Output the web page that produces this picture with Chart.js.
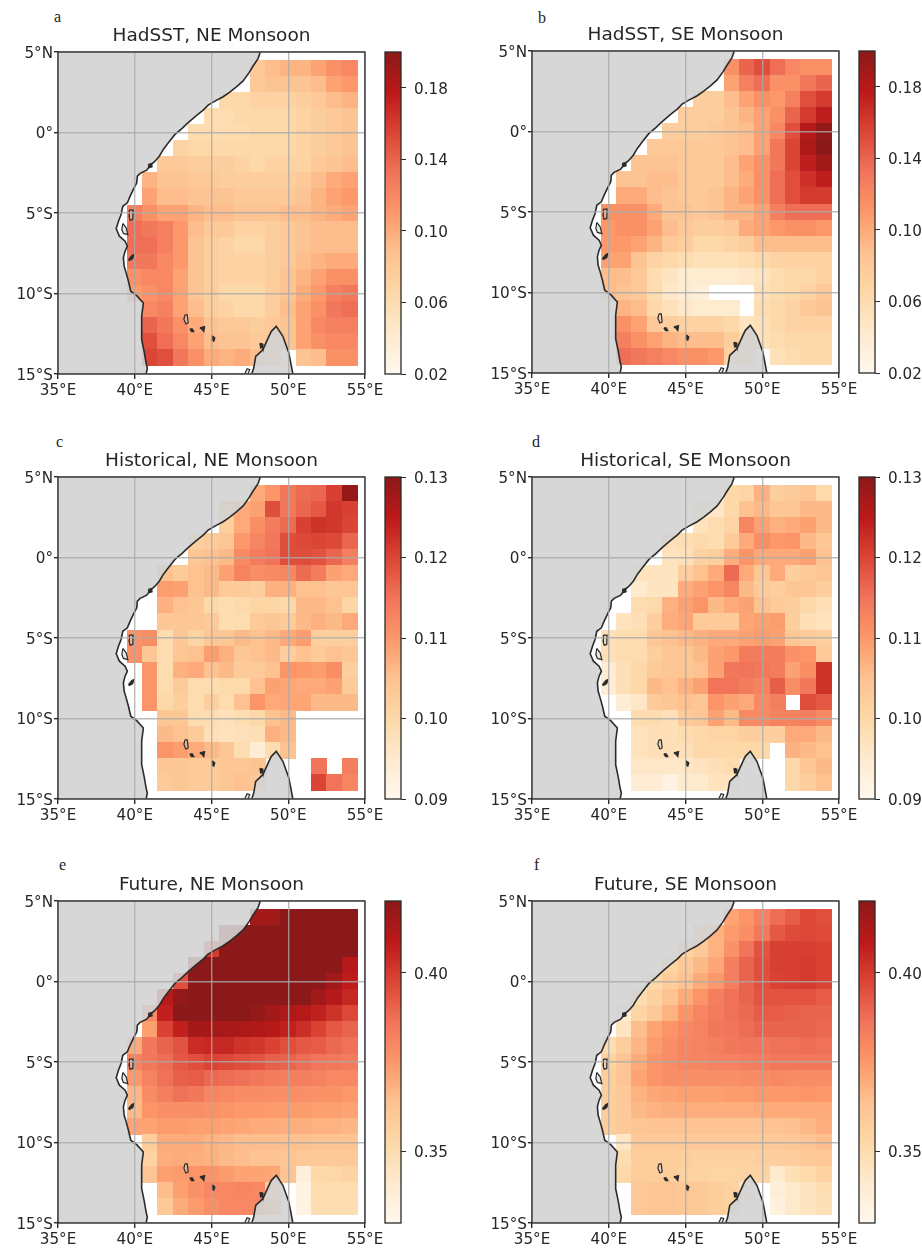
<!DOCTYPE html>
<html><head><meta charset="utf-8">
<script src="https://cdn.jsdelivr.net/npm/chart.js@4"></script>
<style>
html,body{margin:0;padding:0;background:#fff}
#page{position:relative;width:922px;height:1250px;overflow:hidden}
canvas{position:absolute}
.tag{position:absolute;font:16px "Liberation Serif",serif;color:#222;line-height:16px}
</style></head><body><div id="page"></div>
<script>
const n = null;
const lons = [40,41,42,43,44,45,46,47,48,49,50,51,52,53,54];
const lats = [4,3,2,1,0,-1,-2,-3,-4,-5,-6,-7,-8,-9,-10,-11,-12,-13,-14];
const xTickLabels = ['35°E','40°E','45°E','50°E','55°E'];
const yTickLabels = ['15°S','10°S','5°S','0°','5°N'];

const hadsstNE = [
[n,n,n,n,n,n,n,n,.08,.09,.095,.095,.105,.115,.12],
[n,n,n,n,n,n,n,n,.08,.085,.085,.085,.09,.105,.11],
[n,n,n,n,n,n,.065,.065,.07,.07,.07,.075,.08,.09,.095],
[n,n,n,n,n,.06,.06,.065,.065,.065,.065,.07,.075,.08,.085],
[n,n,n,n,.06,.06,.06,.06,.065,.065,.065,.07,.075,.08,.085],
[n,n,n,.07,.065,.065,.065,.065,.065,.065,.065,.07,.075,.08,.085],
[n,n,.08,.08,.075,.075,.075,.07,.065,.07,.07,.07,.08,.085,.09],
[n,.095,.085,.085,.08,.08,.075,.075,.075,.075,.075,.08,.09,.1,.105],
[n,.105,.09,.09,.085,.085,.085,.08,.08,.08,.08,.085,.095,.105,.11],
[.125,.115,.105,.105,.095,.09,.09,.085,.085,.085,.09,.09,.095,.1,.105],
[.135,.13,.125,.11,.09,.08,.08,.07,.07,.075,.08,.085,.09,.09,.09],
[.135,.135,.125,.11,.085,.075,.07,.065,.065,.075,.08,.085,.09,.09,.09],
[.13,.13,.12,.11,.085,.075,.07,.07,.07,.075,.08,.09,.095,.1,.1],
[.115,.12,.12,.105,.085,.075,.07,.07,.07,.075,.085,.095,.105,.115,.115],
[.11,.115,.12,.105,.085,.075,.065,.065,.065,.075,.085,.1,.11,.125,.13],
[n,.12,.125,.105,.09,.075,.07,.065,.065,.075,.09,.105,.115,.13,.135],
[n,.14,.13,.115,.1,.085,.08,.08,.075,.08,.085,.105,.12,.125,.125],
[n,.15,.135,.12,.105,.09,.085,.085,.08,.08,.085,.105,.115,.12,.12],
[n,.155,.15,.13,.115,.1,.095,.1,.09,.08,n,.085,.09,.115,.115]];

const hadsstSE = [
[n,n,n,n,n,n,n,n,.115,.14,.15,.135,.12,.115,.115],
[n,n,n,n,n,n,n,n,.105,.125,.135,.115,.115,.13,.14],
[n,n,n,n,n,n,.075,.075,.09,.105,.115,.11,.125,.15,.16],
[n,n,n,n,n,.075,.075,.075,.085,.095,.105,.115,.14,.16,.175],
[n,n,n,n,.075,.075,.075,.08,.085,.09,.105,.12,.15,.18,.195],
[n,n,n,.08,.08,.08,.08,.08,.085,.09,.105,.13,.155,.185,.2],
[n,n,.085,.085,.085,.08,.08,.08,.09,.105,.115,.13,.155,.175,.19],
[n,.085,.085,.09,.09,.08,.08,.08,.09,.1,.115,.135,.15,.165,.175],
[n,.1,.1,.09,.085,.08,.08,.085,.095,.105,.115,.135,.15,.16,.16],
[.115,.115,.115,.1,.085,.085,.08,.085,.095,.095,.105,.125,.135,.135,.135],
[.11,.115,.115,.105,.09,.08,.075,.075,.08,.1,.105,.11,.115,.115,.11],
[.11,.11,.105,.095,.08,.075,.065,.065,.07,.075,.09,.09,.09,.09,.09],
[.105,.105,.085,.07,.065,.06,.055,.055,.055,.06,.065,.07,.07,.07,.07],
[.09,.09,.08,.06,.05,.04,.04,.04,.04,.045,.05,.06,.065,.065,.07],
[.09,.085,.08,.06,.045,.04,.035,n,n,n,.055,.06,.065,.07,.08],
[n,.095,.09,.065,.055,.045,.04,.04,.04,n,.06,.065,.07,.08,.085],
[n,.115,.105,.08,.075,.07,.07,.07,.065,.05,.055,.065,.07,.07,.07],
[n,.125,.115,.105,.095,.09,.09,.09,.075,.06,.055,.06,.065,.065,.065],
[n,.135,.13,.125,.12,.115,.115,.11,.07,.06,n,.055,.06,.065,.065]];

const historicalNE = [
[n,n,n,n,n,n,n,n,.108,.1105,.1145,.116,.1165,.1205,.129],
[n,n,n,n,n,n,.105,.108,.109,.119,.1145,.1165,.118,.1215,.1205],
[n,n,n,n,n,n,.102,.108,.1115,.114,.116,.1205,.122,.1215,.12],
[n,n,n,n,.102,.103,.104,.11,.1125,.1145,.119,.1195,.12,.1195,.1165],
[n,n,n,n,.104,.105,.106,.112,.114,.115,.119,.119,.1185,.1165,.1135],
[n,n,.105,.103,.105,.106,.109,.113,.1115,.112,.1125,.116,.114,.109,.108],
[n,n,.1095,.109,.105,.106,.103,.103,.102,.107,.107,.105,.105,.104,.104],
[n,n,.107,.105,.104,.1,.0985,.0995,.1005,.1005,.1,.106,.106,.105,.1005],
[n,n,.104,.104,.104,.103,.0985,.099,.103,.104,.103,.106,.107,.106,.108],
[.111,.1115,.099,.104,.101,.104,.104,.106,.105,.106,.108,.1095,.102,.102,.102],
[.111,.104,.099,.104,.105,.1095,.107,.104,.105,.106,.102,.105,.103,.105,.104],
[n,.1105,.099,.107,.108,.105,.106,.103,.103,.105,.1105,.11,.1095,.1115,.102],
[n,.1105,.099,.103,.099,.099,.0995,.0995,.105,.109,.1085,.108,.108,.109,.103],
[n,.1105,.1,.102,.099,.102,.099,.105,.1105,.108,.1085,.1085,.106,.106,.106],
[n,n,.104,.104,.099,.0985,.0975,.0985,.1,.105,.106,n,n,n,n],
[n,n,.106,.105,.103,.098,.097,.0975,.098,.107,.106,n,n,n,n],
[n,n,.1105,.1095,.108,.106,.104,.0985,.094,.099,.105,n,n,n,n],
[n,n,.104,.104,.103,.103,.104,.104,.1045,n,n,n,.115,n,.1135],
[n,n,.103,.104,.103,.103,.104,.105,.104,n,n,n,.12,.115,.1125]];

const historicalSE = [
[n,n,n,n,n,n,n,n,.1,.101,.107,.102,.103,.104,.0995],
[n,n,n,n,n,n,.097,.096,.1,.105,.106,.104,.104,.106,.106],
[n,n,n,n,n,n,.097,.099,.101,.1125,.109,.107,.108,.109,.106],
[n,n,n,n,.098,.0985,.0995,.0985,.103,.108,.1115,.11,.1105,.106,.104],
[n,n,n,n,.097,.0975,.1015,.102,.1075,.1105,.108,.108,.108,.109,.105],
[n,n,.097,.097,.0965,.102,.105,.108,.116,.108,.104,.108,.102,.103,.104],
[n,n,.095,.0965,.0965,.1075,.109,.1105,.1125,.106,.103,.102,.104,.104,.102],
[n,n,.099,.0995,.107,.109,.1105,.106,.108,.109,.105,.103,.102,.1,.098],
[n,.097,.098,.102,.1075,.1085,.103,.103,.103,.1085,.109,.1095,.102,.098,.097],
[.098,.099,.099,.104,.105,.106,.107,.108,.108,.109,.1095,.109,.104,.103,.102],
[.098,.099,.099,.102,.104,.104,.106,.109,.11,.114,.114,.114,.111,.1105,.103],
[.094,.098,.1,.103,.104,.104,.105,.109,.1145,.115,.1145,.114,.109,.1115,.122],
[.094,.098,.1,.106,.105,.107,.109,.115,.115,.114,.113,.1175,.1115,.1145,.122],
[n,.094,.096,.103,.104,.105,.104,.1105,.109,.108,.112,.1135,n,.119,.118],
[n,n,.099,.099,.098,.103,.104,.109,.106,.112,.112,.113,.113,.1135,.112],
[n,n,.097,.098,.098,.099,.1,.101,.101,.102,.102,.102,.108,.108,.106],
[n,n,.097,.098,.098,.098,.1,.1,.1,.1,.1,n,.107,.106,.105],
[n,n,.096,.096,.096,.096,.097,.098,.099,n,n,n,.1,.104,.106],
[n,n,.094,.094,.092,.095,.095,.097,.097,n,n,n,.1,.102,.105]];

const futureNE = [
[n,n,n,n,n,n,n,n,.414,.415,.42,.42,.42,.42,.42],
[n,n,n,n,n,n,.42,.42,.42,.42,.42,.42,.42,.42,.42],
[n,n,n,n,n,.4,.42,.42,.42,.42,.42,.42,.42,.42,.42],
[n,n,n,n,.42,.42,.42,.42,.42,.42,.42,.42,.42,.42,.41],
[n,n,n,.395,.42,.42,.42,.42,.42,.42,.42,.42,.42,.415,.408],
[n,n,.41,.418,.42,.42,.42,.42,.42,.42,.42,.42,.415,.41,.405],
[n,.38,.407,.42,.42,.42,.42,.42,.418,.415,.412,.41,.407,.402,.397],
[n,.373,.398,.407,.414,.414,.413,.412,.411,.41,.407,.403,.398,.393,.39],
[.37,.385,.39,.394,.404,.405,.405,.402,.401,.398,.395,.393,.392,.389,.387],
[.382,.385,.388,.393,.395,.398,.397,.395,.394,.391,.39,.388,.386,.385,.384],
[.375,.382,.387,.391,.392,.389,.388,.387,.385,.384,.383,.383,.382,.38,.38],
[.367,.379,.383,.387,.385,.381,.38,.379,.379,.378,.378,.378,.377,.377,.375],
[.366,.376,.378,.378,.378,.377,.376,.375,.375,.374,.374,.374,.373,.373,.372],
[.372,.372,.374,.374,.373,.373,.372,.371,.37,.37,.369,.369,.368,.368,.367],
[n,.358,.37,.37,.37,.368,.367,.365,.365,.365,.364,.364,.363,.363,.363],
[n,.355,.369,.37,.369,.368,.366,.365,.363,.363,.362,.361,.36,.36,.36],
[n,.362,.373,.374,.376,.376,.374,.372,.372,.371,.363,.337,.352,.353,.355],
[n,n,.365,.373,.377,.38,.38,.381,.38,.358,n,.334,.35,.35,.35],
[n,n,.36,.37,.374,.378,.38,.38,.38,.37,n,.334,.349,.349,.349]];

const futureSE = [
[n,n,n,n,n,n,n,n,.372,.376,.382,.388,.392,.397,.395],
[n,n,n,n,n,n,.36,.368,.374,.378,.385,.393,.396,.397,.396],
[n,n,n,n,n,.355,.36,.368,.377,.386,.394,.399,.399,.399,.398],
[n,n,n,n,.354,.36,.366,.371,.383,.39,.395,.399,.399,.4,.398],
[n,n,n,.352,.358,.363,.37,.375,.383,.39,.395,.398,.399,.4,.398],
[n,n,.35,.356,.363,.37,.376,.383,.387,.39,.394,.394,.394,.394,.392],
[n,.34,.354,.36,.368,.376,.381,.384,.387,.389,.392,.392,.391,.39,.39],
[n,.345,.365,.372,.376,.38,.382,.385,.386,.388,.39,.39,.39,.39,.389],
[.35,.357,.367,.374,.378,.381,.382,.383,.385,.386,.386,.387,.387,.388,.387],
[.356,.362,.37,.376,.379,.381,.381,.382,.382,.383,.384,.385,.385,.385,.385],
[.358,.362,.372,.376,.378,.378,.378,.378,.378,.379,.379,.38,.379,.379,.379],
[.357,.36,.368,.371,.372,.373,.373,.373,.374,.374,.375,.375,.375,.376,.375],
[.357,.36,.366,.368,.369,.369,.369,.369,.369,.369,.37,.37,.37,.37,.37],
[.358,.36,.362,.363,.363,.363,.363,.363,.363,.363,.363,.363,.364,.366,.369],
[n,.344,.36,.36,.36,.36,.36,.36,.36,.36,.36,.36,.361,.362,.365],
[n,.35,.358,.358,.358,.357,.356,.356,.356,.356,.357,.357,.358,.36,.361],
[n,.352,.358,.358,.358,.356,.355,.354,.354,.355,.355,.341,.348,.351,.355],
[n,n,.36,.362,.362,.361,.36,.358,.356,.345,n,.338,.342,.345,.349],
[n,n,.36,.362,.362,.361,.36,.358,.356,n,n,.336,.342,.345,.348]];

const mainlandLon = [48.18,48.03,47.71,47.45,47.06,46.62,46.19,45.76,45.22,44.78,44.46,44.03,43.48,43.05,42.62,42.19,41.86,41.6,41.32,41,40.78,40.35,40.17,40.13,39.91,39.7,39.52,39.22,39.11,38.94,38.79,39,39.37,39.52,39.37,39.26,39.31,39.44,39.59,39.74,40.13,40.56,40.45,40.45,40.45,40.61,40.74,40.82,40.74];
const mainlandLat = [5,4.59,4.13,3.72,3.2,2.84,2.51,2.22,1.95,1.7,1.39,1.06,.61,.23,-.12,-.64,-1.05,-1.47,-1.78,-2.05,-2.34,-2.54,-2.71,-3.12,-3.53,-3.95,-4.37,-4.58,-5.09,-5.51,-5.98,-6.44,-6.75,-7.06,-7.37,-7.79,-8.31,-8.72,-9.24,-9.86,-10.13,-10.59,-11.41,-12.45,-12.87,-13.59,-14.32,-14.63,-15];
const madagascarLon = [47.62,47.75,47.88,48.35,48.74,48.9,49.22,49.65,50.04,50.3];
const madagascarLat = [-15,-14.63,-13.9,-13.49,-12.66,-12.35,-12.04,-12.66,-13.69,-15];
const islands = [
 {lon:[39.65,39.89,39.87,39.7,39.63,39.65],lat:[-4.82,-4.82,-5.4,-5.45,-5.2,-4.82]},
 {lon:[39.22,39.44,39.55,39.26,39.16,39.22],lat:[-5.65,-5.92,-6.34,-6.27,-6.03,-5.65]},
 {lon:[43.27,43.42,43.48,43.33,43.2,43.27],lat:[-11.33,-11.33,-11.83,-11.89,-11.6,-11.33]},
 {dark:1,lon:[39.59,39.81,39.94,39.87,39.65,39.59],lat:[-7.89,-7.64,-7.58,-7.83,-7.95,-7.89]},
 {dark:1,lon:[40.89,41.1,41.13,40.93,40.89],lat:[-1.98,-1.92,-2.13,-2.19,-1.98]},
 {dark:1,lon:[43.59,43.75,43.85,43.7,43.59],lat:[-12.2,-12.2,-12.37,-12.37,-12.2]},
 {dark:1,lon:[44.24,44.55,44.5,44.35,44.24],lat:[-12.14,-12.06,-12.37,-12.2,-12.14]},
 {dark:1,lon:[45.04,45.22,45.15,45.04,45.04],lat:[-12.62,-12.76,-12.97,-12.89,-12.62]},
 {dark:1,lon:[48.15,48.3,48.35,48.2,48.15],lat:[-13.1,-13.12,-13.35,-13.38,-13.1]},
 {lon:[47.16,47.32,47.49,47.38],lat:[-15,-14.67,-14.73,-15]}
];

const panels = [
 {tag:'a',title:'HadSST, NE Monsoon',data:hadsstNE,min:.02,max:.2,ticks:[.02,.06,.10,.14,.18],left:58,top:52,cb:385,tx:54,ty:9},
 {tag:'b',title:'HadSST, SE Monsoon',data:hadsstSE,min:.02,max:.2,ticks:[.02,.06,.10,.14,.18],left:532,top:51,cb:859,tx:538,ty:10},
 {tag:'c',title:'Historical, NE Monsoon',data:historicalNE,min:.09,max:.13,ticks:[.09,.10,.11,.12,.13],left:58,top:477,cb:385,tx:56,ty:434},
 {tag:'d',title:'Historical, SE Monsoon',data:historicalSE,min:.09,max:.13,ticks:[.09,.10,.11,.12,.13],left:532,top:477,cb:859,tx:532,ty:434},
 {tag:'e',title:'Future, NE Monsoon',data:futureNE,min:.33,max:.42,ticks:[.35,.40],left:58,top:901,cb:385,tx:59,ty:857},
 {tag:'f',title:'Future, SE Monsoon',data:futureSE,min:.33,max:.42,ticks:[.35,.40],left:532,top:901,cb:859,tx:534,ty:857}
];

const orRd = [[255,247,236],[254,232,200],[253,212,158],[253,187,132],[252,141,89],[239,101,72],[215,48,31],[179,0,0],[127,0,0]];
const ALPHA = 0.9;
const flat = c=>c.map(v=>Math.round(v*ALPHA+255*(1-ALPHA)));
function cmap(t){
  t = Math.max(0,Math.min(1,t))*(orRd.length-1);
  const i = Math.min(orRd.length-2,Math.floor(t)), f = t-i;
  const c = flat(orRd[i].map((v,k)=>v+(orRd[i+1][k]-v)*f));
  return `rgb(${c[0]},${c[1]},${c[2]})`;
}
const imgCache = {};
function cellImage(color){
  if(imgCache[color]) return imgCache[color];
  const c = document.createElement('canvas'); c.width = 16; c.height = 17;
  const g = c.getContext('2d'); g.fillStyle = color; g.fillRect(0,0,16,17);
  return imgCache[color] = c;
}
const pts = (lon,lat)=>lon.map((x,i)=>({x,y:lat[i]}));
const frame = {id:'frame',afterDraw(chart){
  const a = chart.chartArea, g = chart.ctx;
  g.save(); g.strokeStyle = '#2a2a2a'; g.lineWidth = 1.3;
  g.strokeRect(a.left,a.top,a.right-a.left,a.bottom-a.top); g.restore();
}};
const TICK = {size:15.2,family:'"DejaVu Sans"'};
const TXT = '#262626';
const page = document.getElementById('page');
function addCanvas(l,t,w,h){
  const c = document.createElement('canvas');
  c.width = w; c.height = h; c.style.left = l+'px'; c.style.top = t+'px';
  page.appendChild(c); return c;
}
const LAND = 'rgba(211,211,211,0.9)', COAST = '#2b2b2b', GRID = 'rgba(170,170,170,0.8)';

panels.forEach(p=>{
  const tag = document.createElement('div'); tag.className='tag'; tag.textContent=p.tag;
  tag.style.left=p.tx+'px'; tag.style.top=p.ty+'px'; page.appendChild(tag);

  const cells = [];
  p.data.forEach((row,r)=>row.forEach((v,c)=>{ if(v!==null) cells.push({x:lons[c],y:lats[r],v}); }));
  const colorOf = v=>cmap((v-p.min)/(p.max-p.min));
  const base = {showLine:true,pointRadius:0,tension:0};
  const datasets = [
    {type:'scatter',label:p.title,data:cells,order:9,showLine:false,pointRadius:3,
     pointStyle:ctx=>cellImage(colorOf(ctx.raw.v))},
    {...base,label:'land',data:[...pts(mainlandLon,mainlandLat),{x:35,y:-15},{x:35,y:5}],order:8,fill:'shape',backgroundColor:LAND,borderWidth:0},
    {...base,label:'madagascar land',data:pts(madagascarLon,madagascarLat),order:8,fill:'shape',backgroundColor:LAND,borderWidth:0},
    {...base,label:'coast',data:pts(mainlandLon,mainlandLat),order:2,fill:false,borderColor:COAST,borderWidth:1.6},
    {...base,label:'madagascar coast',data:pts(madagascarLon,madagascarLat),order:2,fill:false,borderColor:COAST,borderWidth:1.6}
  ];
  islands.forEach((s,i)=>datasets.push({...base,label:'island '+i,data:pts(s.lon,s.lat),order:1,fill:'shape',
    backgroundColor:s.dark?COAST:'rgba(211,211,211,0.55)',borderColor:COAST,borderWidth:1.2}));

  new Chart(addCanvas(p.left-58,p.top-26,385,376),{
    type:'scatter',
    data:{datasets},
    options:{
      responsive:false,animation:false,devicePixelRatio:1,events:[],
      layout:{padding:{left:0,right:20,top:0,bottom:0}},
      plugins:{legend:{display:false},tooltip:{enabled:false},
        title:{display:true,text:p.title,fullSize:false,color:TXT,
          font:{size:18.5,family:'"DejaVu Sans"',weight:'normal',lineHeight:'20px'},padding:{top:0,bottom:6}}},
      scales:{
        x:{type:'linear',min:35,max:55,afterFit:s=>{s.height=28;s.paddingLeft=0;s.paddingRight=0},
          ticks:{stepSize:5,autoSkip:false,maxRotation:0,color:TXT,font:TICK,padding:3,
            callback:v=>xTickLabels[(v-35)/5]},
          grid:{color:GRID,lineWidth:1.4,tickColor:'#2a2a2a',tickLength:5,z:1},border:{display:false}},
        y:{type:'linear',min:-15,max:5,afterFit:s=>{s.width=58;s.paddingTop=0;s.paddingBottom=0},
          ticks:{stepSize:5,autoSkip:false,color:TXT,font:TICK,padding:1,labelOffset:2,
            callback:v=>yTickLabels[(v+15)/5]},
          grid:{color:GRID,lineWidth:1.4,tickColor:'#2a2a2a',tickLength:4,z:1},border:{display:false}}
      }
    },
    plugins:[frame]
  });

  new Chart(addCanvas(p.cb-1,p.top-10,63,342),{
    type:'bar',
    data:{labels:[p.tag],datasets:[{label:'colour scale',data:[[p.min,p.max]],barPercentage:1,categoryPercentage:1,borderWidth:0,
      backgroundColor:ctx=>{
        const a = ctx.chart.chartArea; if(!a) return 'transparent';
        const g = ctx.chart.ctx.createLinearGradient(0,a.bottom,0,a.top);
        orRd.forEach((c,i)=>{const f=flat(c);g.addColorStop(i/(orRd.length-1),`rgb(${f[0]},${f[1]},${f[2]})`)});
        return g;
      }}]},
    options:{
      responsive:false,animation:false,devicePixelRatio:1,events:[],
      layout:{padding:{left:1,right:0,top:10,bottom:10}},
      plugins:{legend:{display:false},tooltip:{enabled:false}},
      scales:{
        x:{display:false},
        y:{position:'right',min:p.min,max:p.max,afterFit:s=>{s.width=46;s.paddingTop=0;s.paddingBottom=0},
          afterBuildTicks:s=>{s.ticks=p.ticks.map(value=>({value}))},
          ticks:{color:TXT,font:TICK,padding:8,labelOffset:2,autoSkip:false,callback:v=>Number(v).toFixed(2)},
          grid:{drawOnChartArea:false,tickColor:'#2a2a2a',tickLength:5},border:{display:false}}
      }
    },
    plugins:[frame]
  });
});
</script></body></html>
